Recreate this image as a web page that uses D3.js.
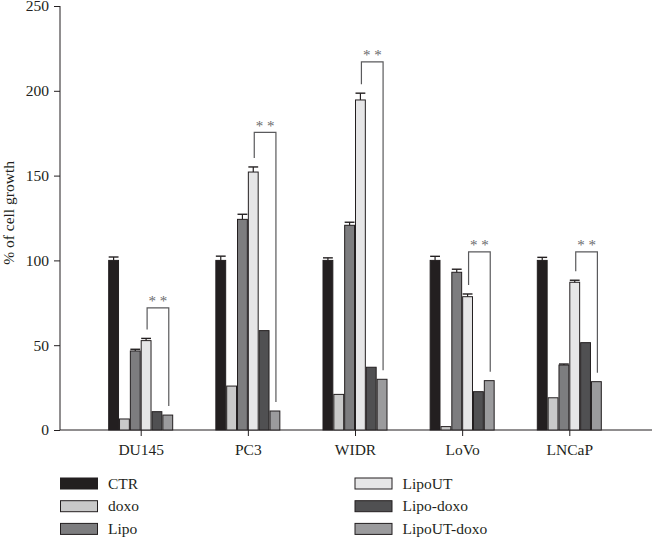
<!DOCTYPE html>
<html>
<head>
<meta charset="utf-8">
<script src="https://cdn.jsdelivr.net/npm/d3@7"></script>
<style>
  html, body { margin: 0; padding: 0; background: #fff; }
  svg { display: block; }
  text { font-family: "Liberation Serif", "Times New Roman", serif; fill: #231f20; }
</style>
</head>
<body>
<svg id="chart" width="652" height="537"></svg>
<script>
// ---- data ----
const categories = ["DU145", "PC3", "WIDR", "LoVo", "LNCaP"];
const seriesNames = ["CTR", "doxo", "Lipo", "LipoUT", "Lipo-doxo", "LipoUT-doxo"];
const ctr        = [100, 100, 100, 100, 100];
const doxo       = [6.5, 25.9, 21, 2, 19];
const lipo       = [46.6, 124.2, 120.7, 93, 38.3];
const lipoUT     = [52.7, 152.1, 194.6, 78.6, 87.1];
const lipoDoxo   = [10.8, 58.6, 37, 22.6, 51.5];
const lipoUTDoxo = [8.8, 11.2, 29.9, 29.1, 28.5];
const ctrErr     = [2, 2.5, 1.5, 2.4, 1.8];
const lipoErr    = [1, 3, 1.8, 1.8, 0.6];
const lipoUTErr  = [1.3, 3, 4, 1.6, 1.2];
const bracketLevel = [72, 175.5, 217, 105, 105];
const yTicks = [0, 50, 100, 150, 200, 250];
const seriesColors = ["#231f20", "#c9c9c9", "#7d7d7f", "#e6e6e7", "#505052", "#9b9b9d"];

const seriesValues = [ctr, doxo, lipo, lipoUT, lipoDoxo, lipoUTDoxo];
const seriesErrors = [ctrErr, null, lipoErr, lipoUTErr, null, null];

(function () {
// ---- layout ----
const svg = d3.select("#chart");
const mLeft = 60, mRight = 650, mTop = 6, mBottom = 430;
const ink = "#231f20";
const fs = "15.5px";

const y = d3.scaleLinear().domain([0, 250]).range([mBottom, mTop]);
const x0 = d3.scalePoint().domain(categories).range([mLeft, mRight]).padding(0.753);
const x1 = d3.scaleBand().domain(seriesNames).range([-32.5, 32.5]);

// y axis
const yAxis = svg.append("g").attr("transform", `translate(${mLeft},0)`)
  .call(d3.axisLeft(y).tickValues(yTicks).tickSize(6).tickPadding(5).tickFormat(d3.format("d")));
yAxis.select(".domain").attr("stroke", ink).attr("d", `M0,${mTop}V${mBottom}`);
yAxis.selectAll(".tick line").attr("stroke", ink);
yAxis.selectAll(".tick text").style("font-size", fs).attr("fill", ink)
  .style("font-family", '"Liberation Serif", serif');

// x axis
const xAxis = svg.append("g").attr("transform", `translate(0,${mBottom})`)
  .call(d3.axisBottom(x0).tickSize(6).tickPadding(8));
xAxis.select(".domain").attr("stroke", ink).attr("d", `M${mLeft},0H652`);
xAxis.selectAll(".tick line").attr("stroke", ink);
xAxis.selectAll(".tick text").style("font-size", fs).attr("fill", ink)
  .style("font-family", '"Liberation Serif", serif');

// y title
svg.append("text")
  .attr("transform", `translate(14,${y(128)}) rotate(-90)`)
  .attr("text-anchor", "middle")
  .style("font-size", fs)
  .text("% of cell growth");

// bars
const barsG = svg.append("g");
seriesNames.forEach((s, si) => {
  categories.forEach((c, ci) => {
    const v = seriesValues[si][ci];
    barsG.append("rect")
      .attr("x", x0(c) + x1(s) + 0.5)
      .attr("y", y(v))
      .attr("width", x1.bandwidth() - 1)
      .attr("height", y(0) - y(v))
      .attr("fill", seriesColors[si])
      .attr("stroke", ink)
      .attr("stroke-width", 1);
    const e = seriesErrors[si];
    if (e) {
      const cx = x0(c) + x1(s) + x1.bandwidth() / 2;
      const hw = x1.bandwidth() / 2 - 0.5;
      barsG.append("line").attr("x1", cx).attr("x2", cx)
        .attr("y1", y(v)).attr("y2", y(v + e[ci])).attr("stroke", ink).attr("stroke-width", 1.2);
      barsG.append("line").attr("x1", cx - hw).attr("x2", cx + hw)
        .attr("y1", y(v + e[ci])).attr("y2", y(v + e[ci])).attr("stroke", ink).attr("stroke-width", 1.4);
    }
  });
});

// significance brackets
const brG = svg.append("g");
categories.forEach((c, ci) => {
  const xl = x0(c) + x1("LipoUT") + x1.bandwidth() / 2 + 1;
  const xr = x0(c) + x1("LipoUT-doxo") + x1.bandwidth() / 2 + 1;
  const yl = y(lipoUT[ci] + lipoUTErr[ci]) - 9;
  const yr = y(lipoUTDoxo[ci]) - 9;
  const yt = y(bracketLevel[ci]);
  brG.append("path")
    .attr("d", `M${xl},${yl}V${yt}H${xr}V${yr}`)
    .attr("fill", "none").attr("stroke", "#5a5a5c").attr("stroke-width", 1.2);
  brG.append("text")
    .attr("x", (xl + xr) / 2).attr("y", yt - 1.5)
    .attr("text-anchor", "middle")
    .style("font-size", "15px").style("fill", "#6a6a6c")
    .text("* *");
});

// legend
const legendG = svg.append("g");
seriesNames.forEach((s, i) => {
  const col = Math.floor(i / 3), row = i % 3;
  const lx = col === 0 ? 60 : 354.5;
  const ly = 477.5 + row * 22.7;
  legendG.append("rect")
    .attr("x", lx + 0.5).attr("y", ly + 0.5)
    .attr("width", 37).attr("height", 11)
    .attr("fill", seriesColors[i]).attr("stroke", ink).attr("stroke-width", 1);
  legendG.append("text")
    .attr("x", lx + 48).attr("y", ly + 11)
    .style("font-size", fs)
    .text(s);
});
})();
</script>
</body>
</html>
